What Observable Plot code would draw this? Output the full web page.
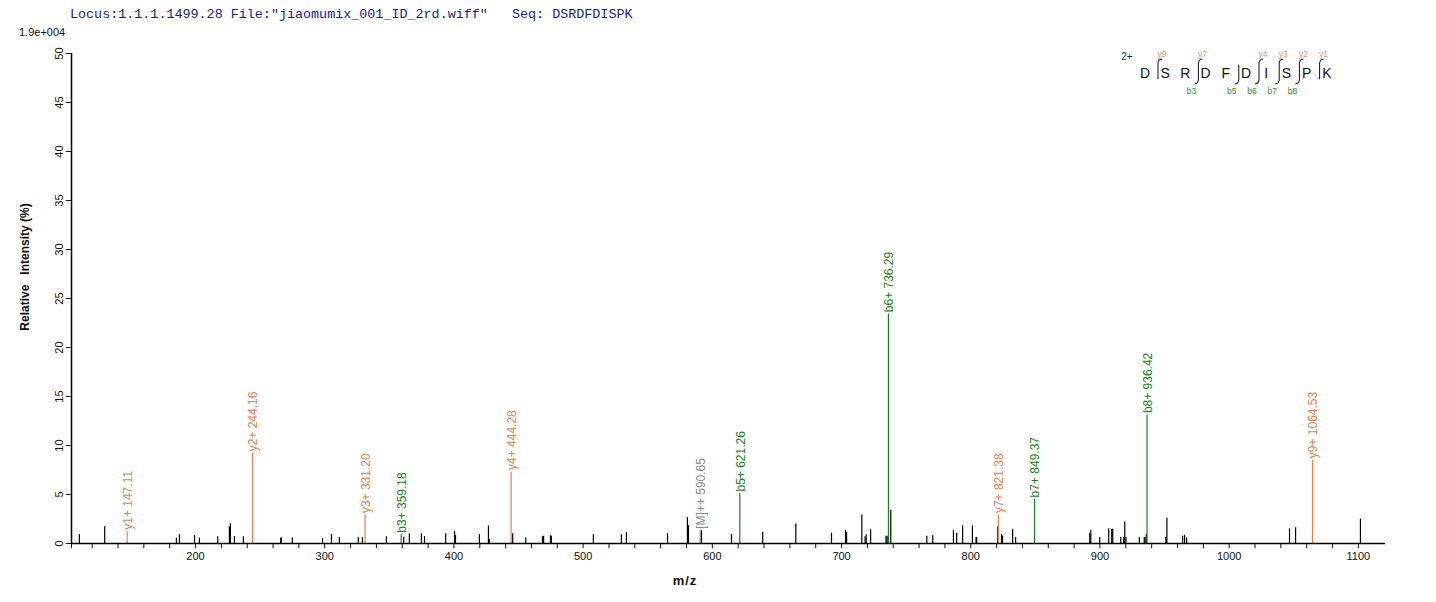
<!DOCTYPE html>
<html>
<head>
<meta charset="utf-8">
<script src="https://cdn.jsdelivr.net/npm/d3@7"></script>
<script src="https://cdn.jsdelivr.net/npm/@observablehq/plot@0.6"></script>
<style>
  body { margin: 0; background: #fff; }
  #wrap { position: relative; width: 1436px; height: 602px; overflow: hidden; }
  #wrap svg { position: absolute; left: 0; top: 0; }
  .ov { position: absolute; white-space: pre; }
</style>
</head>
<body>
<div id="wrap">
  <div class="ov" style="left:70px;top:7px;font:13.4px 'Liberation Mono','DejaVu Sans Mono',monospace;color:#1c1c8a;">Locus:1.1.1.1499.28 File:"jiaomumix_001_ID_2rd.wiff"   Seq: DSRDFDISPK</div>
  <div class="ov" style="left:19px;top:26px;font:11px 'Liberation Sans',Arial,sans-serif;color:#111;">1.9e+004</div>
  <div class="ov" style="left:25px;top:267px;transform:translate(-50%,-50%) rotate(-90deg);font:bold 12px 'Liberation Sans',Arial,sans-serif;color:#111;">Relative   Intensity (%)</div>
  <div class="ov" style="left:685px;top:580px;transform:translate(-50%,-50%);font:bold 13px 'Liberation Sans',Arial,sans-serif;letter-spacing:1px;color:#111;">m/z</div>
</div>
<script>
// ---- data ----
// unassigned peaks (m/z, relative intensity %)
const peakMz = [110.1,129.7,185.2,187.5,199.2,203.0,217.2,226.2,227.0,230.1,237.0,265.9,266.4,274.9,298.3,305.2,311.3,326.0,329.2,347.7,361.1,365.5,374.8,377.2,393.6,400.5,401.2,419.7,426.7,427.4,445.5,455.6,468.5,469.4,474.7,475.4,507.9,529.6,533.5,565.3,580.7,581.5,591.6,614.8,639.0,664.6,692.2,703.1,703.9,715.7,718.2,719.1,722.5,734.4,735.3,738.1,766.0,770.6,786.6,789.1,793.7,801.3,804.1,804.6,820.9,823.8,824.6,832.4,834.7,892.1,892.9,899.8,906.8,909.1,909.9,916.1,918.4,919.2,920.1,930.5,934.3,934.9,935.9,951.0,951.8,964.0,965.5,967.1,1046.7,1051.4,1101.6];
const peakInt = [0.9,1.7,0.55,0.9,0.8,0.55,0.7,1.7,2.0,0.7,0.7,0.5,0.6,0.55,0.5,0.9,0.6,0.6,0.6,0.7,0.65,1.0,1.0,0.7,1.0,1.2,0.8,0.9,1.8,0.4,1.0,0.55,0.7,0.75,0.8,0.75,0.9,0.9,1.1,1.0,2.65,1.85,1.3,0.9,1.15,2.0,1.05,1.3,1.1,2.9,0.7,0.9,1.4,0.75,0.75,3.4,0.75,0.8,1.3,1.05,1.8,1.8,0.6,0.6,1.7,0.9,0.75,1.45,0.6,1.0,1.3,0.6,1.5,1.45,1.45,0.6,0.6,2.2,0.6,0.6,0.6,0.6,0.95,0.6,2.6,0.75,0.85,0.55,1.5,1.6,2.5];
// assigned fragment peaks
const ionName = ["y1+","y2+","y3+","b3+","y4+","[M]++","b5+","b6+","y7+","b7+","b8+","y9+"];
const ionMz   = [147.11,244.16,331.20,359.18,444.28,590.65,621.26,736.29,821.38,849.37,936.42,1064.53];
const ionInt  = [1.2,9.2,2.9,0.9,7.3,1.3,5.1,23.4,2.9,4.5,13.1,8.5];
const ionType = ["y","y","y","b","y","M","b","b","y","b","b","y"];
// axis ticks
const xTicks = [104, ...d3.range(120, 1101, 20)];
const yTicks = d3.range(0, 51, 5);
// sequence annotation
const residues = ["D","S","R","D","F","D","I","S","P","K"];
const yBreaks = [[1,"y9"],[3,"y7"],[6,"y4"],[7,"y3"],[8,"y2"],[9,"y1"]];
const bBreaks = [[3,"b3"],[5,"b5"],[6,"b6"],[7,"b7"],[8,"b8"]];
const precursorCharge = "2+";

// ---- build ----
const peaks = peakMz.map((m, i) => ({mz: m, int: peakInt[i]}));
const ions = ionMz.map((m, i) => ({mz: m, int: ionInt[i], name: ionName[i], type: ionType[i], label: ionName[i] + " " + m.toFixed(2)}));
const colorOf = {y: "#e8834f", b: "#1d7f1d", M: "#8a8a8a"};

const chart = Plot.plot({
  width: 1436,
  height: 602,
  marginLeft: 71,
  marginRight: 51,
  marginTop: 53,
  marginBottom: 59,
  style: {fontFamily: "'Liberation Sans', Arial, sans-serif", fontSize: "11px", color: "#111", background: "transparent"},
  x: {domain: [104, 1121], ticks: xTicks, tickFormat: d => d % 100 === 0 ? String(d) : "", tickSize: 5, label: null},
  y: {domain: [0, 50], ticks: yTicks, tickSize: 5, tickRotate: -90, label: null},
  marks: [
    Plot.ruleX(peaks, {x: "mz", y1: 0, y2: "int", stroke: "#000", strokeWidth: 1.2}),
    ...["y", "b", "M"].map(t => Plot.ruleX(ions.filter(d => d.type === t), {x: "mz", y1: 0, y2: "int", stroke: colorOf[t], strokeWidth: 1.2})),
    ...["y", "b", "M"].map(t => Plot.text(ions.filter(d => d.type === t), {x: "mz", y: "int", text: "label", rotate: -90, textAnchor: "start", lineAnchor: "middle", dy: -2, dx: 1, fill: colorOf[t], fontSize: 12})),
    Plot.ruleY([0], {stroke: "#000", strokeWidth: 1.5}),
    Plot.ruleX([104], {y1: 0, y2: 50, stroke: "#000", strokeWidth: 1.5})
  ]
});
const wrap = document.getElementById("wrap");
wrap.insertBefore(chart, wrap.firstChild);

// sequence fragment annotation (top right)
const svg = d3.select(chart);
const g = svg.append("g").attr("font-family", "'Liberation Sans', Arial, sans-serif");
const x0 = 1145, step = 20.2, yLetter = 73;
const cx = i => x0 + i * step;
g.selectAll("text.res").data(residues).join("text")
  .attr("x", (d, i) => cx(i)).attr("y", yLetter).attr("dy", "0.35em")
  .attr("text-anchor", "middle").attr("font-size", 14).attr("fill", "#111").text(d => d);
g.append("text").attr("x", 1127).attr("y", 60).attr("font-size", 10).attr("fill", "#1c1c8a").text(precursorCharge);
const sepX = k => cx(k - 1) + 13;
const hasY = new Set(yBreaks.map(d => d[0])), hasB = new Set(bBreaks.map(d => d[0]));
d3.union(hasY, hasB).forEach(k => {
  const s = sepX(k);
  let p = hasY.has(k) ? `M${s + 4},59 Q${s},59 ${s},63 ` : `M${s},65 `;
  p += hasB.has(k) ? `L${s},80 Q${s},84 ${s - 4},84` : `L${s},79`;
  g.append("path").attr("d", p).attr("fill", "none").attr("stroke", "#111").attr("stroke-width", 1);
});
g.selectAll("text.yl").data(yBreaks).join("text")
  .attr("x", d => sepX(d[0]) + 4).attr("y", 57).attr("font-size", 8.5).attr("fill", "#f0916a")
  .text(d => d[1]);
g.selectAll("text.bl").data(bBreaks).join("text")
  .attr("x", d => sepX(d[0]) - 7).attr("y", 94).attr("font-size", 8.5).attr("fill", "#2f8f2f")
  .text(d => d[1]);
</script>
</body>
</html>
